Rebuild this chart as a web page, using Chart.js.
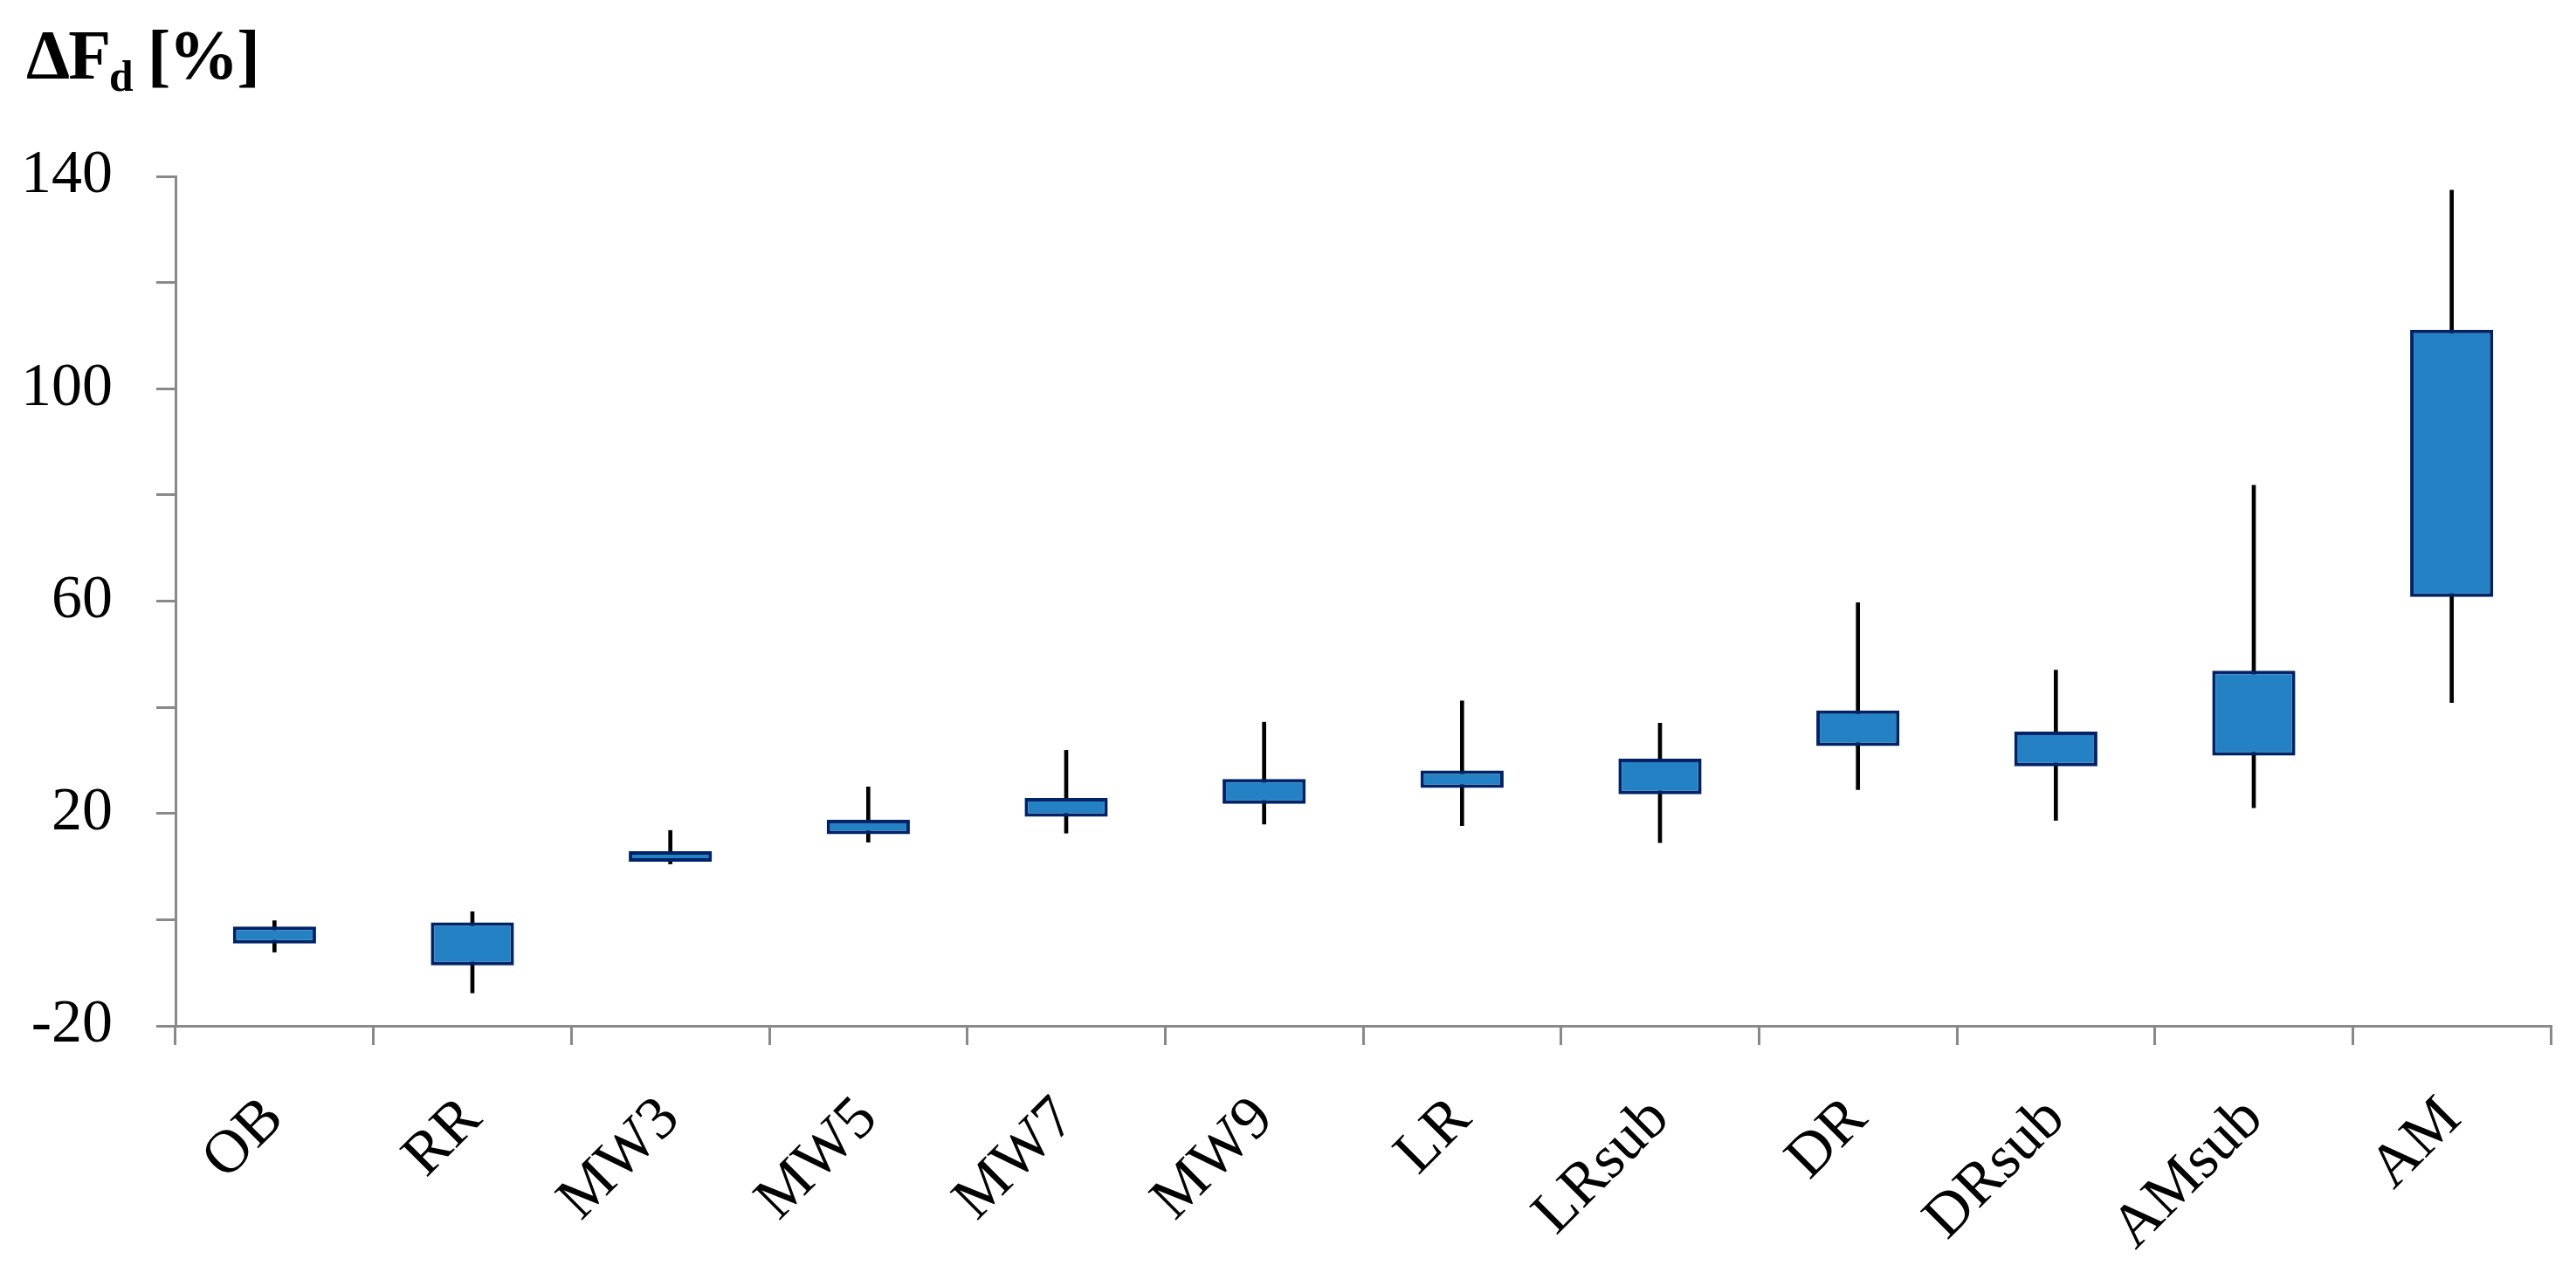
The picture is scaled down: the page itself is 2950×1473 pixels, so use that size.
<!DOCTYPE html>
<html>
<head>
<meta charset="utf-8">
<script src="https://cdn.jsdelivr.net/npm/chart.js@4.4.1/dist/chart.umd.min.js"></script>
<style>
  html, body { margin: 0; padding: 0; background: #fff; }
  #wrap { position: relative; width: 2950px; height: 1473px; }
  #title {
    position: absolute; left: 30px; top: 23px;
    font: bold 80px "Liberation Serif", serif; color: #000;
    line-height: 1; white-space: nowrap; letter-spacing: -2px;
  }
  #title sub { font-size: 0.62em; vertical-align: -0.28em; line-height: 0; }
</style>
</head>
<body>
<div id="wrap">
  <canvas id="chart" width="2950" height="1473"></canvas>
  <div id="title">ΔF<sub>d</sub> [%]</div>
</div>
<script>
const categories = ["OB", "RR", "MW3", "MW5", "MW7", "MW9", "LR", "LRsub", "DR", "DRsub", "AMsub", "AM"];

// whisker ends (min / max) and box ends (low / high), in %
const whiskerMin = [-6.1, -13.8, 10.5, 14.6, 16.3, 18.0, 17.7, 14.5, 24.5, 18.7, 21.1, 40.9];
const boxLow     = [-4.5,  -8.6, 10.9, 16.1, 19.4, 21.8, 24.8, 23.6, 32.7, 28.9, 30.9, 60.8];
const boxHigh    = [-1.3,  -0.5, 12.9, 18.8, 22.9, 26.5, 28.1, 30.3, 39.4, 35.4, 46.9, 111.1];
const whiskerMax = [-0.2,   1.5, 16.8, 25.0, 31.9, 37.2, 41.2, 37.0, 59.7, 47.0, 81.8, 137.4];

const yTickLabels = [140, 100, 60, 20, -20];

const axisGray = "#898989";
const labelFont = { family: "Liberation Serif", size: 70 };

const ctx = document.getElementById("chart").getContext("2d");

new Chart(ctx, {
  type: "bar",
  data: {
    labels: categories,
    datasets: [
      {
        label: "Box",
        data: boxLow.map((v, i) => [v, boxHigh[i]]),
        backgroundColor: "#2481C4",
        borderColor: "#002266",
        borderWidth: 4,
        borderSkipped: false,
        grouped: false,
        barPercentage: 0.42,
        categoryPercentage: 1,
        order: 0
      },
      {
        label: "Range",
        data: whiskerMin.map((v, i) => [v, whiskerMax[i]]),
        backgroundColor: "#000",
        borderWidth: 0,
        barThickness: 4,
        grouped: false,
        order: 1
      }
    ]
  },
  options: {
    responsive: false,
    animation: false,
    devicePixelRatio: 1,
    layout: { padding: { top: 202, right: 29, bottom: 0, left: 0 } },
    plugins: {
      legend: { display: false },
      tooltip: { enabled: false }
    },
    scales: {
      x: {
        offset: true,
        grid: { offset: true, drawOnChartArea: false, color: axisGray, lineWidth: 3, tickLength: 22 },
        border: { color: axisGray, width: 3 },
        ticks: { font: labelFont, color: "#000", minRotation: 45, maxRotation: 45, padding: 44 },
        afterFit: s => { s.height = 298; }
      },
      y: {
        min: -20,
        max: 140,
        grid: { drawOnChartArea: false, color: axisGray, lineWidth: 3, tickLength: 22 },
        border: { color: axisGray, width: 3 },
        ticks: {
          stepSize: 20,
          font: labelFont,
          color: "#000",
          padding: 50,
          callback: v => (yTickLabels.includes(v) ? v : "")
        },
        afterFit: s => { s.width = 201; }
      }
    }
  }
});
</script>
</body>
</html>
